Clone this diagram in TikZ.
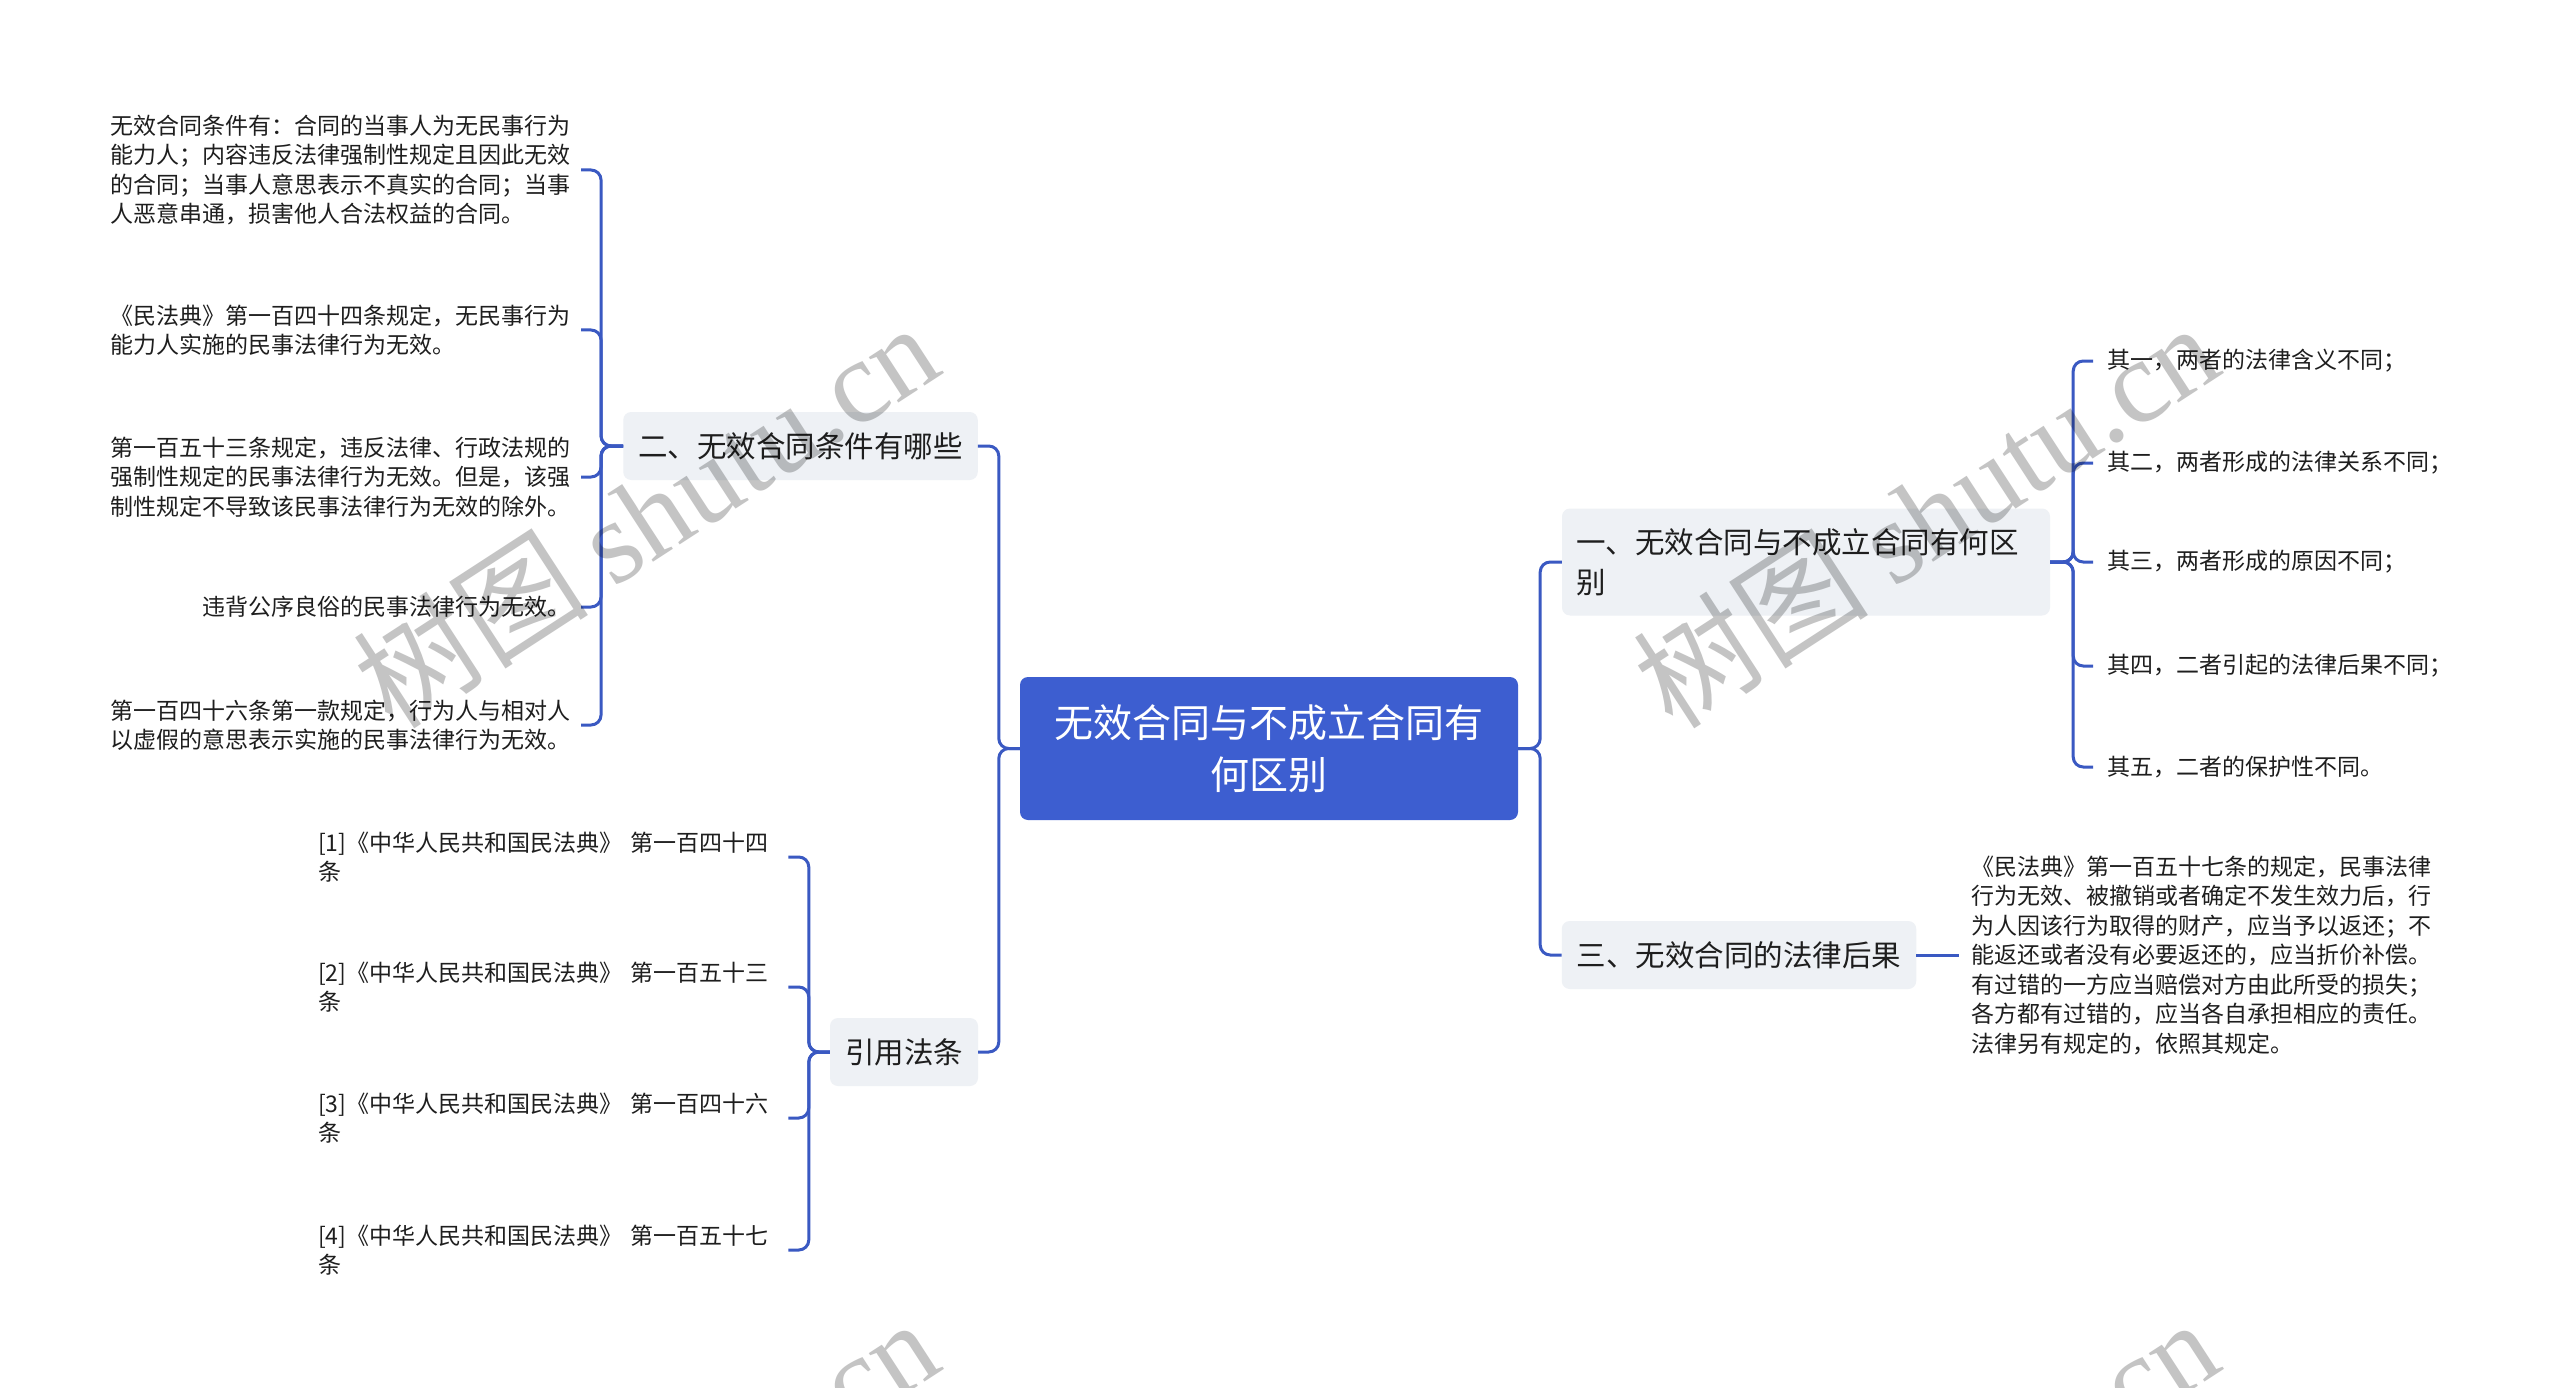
\documentclass[tikz,border=0pt]{standalone}
\usepackage{fontspec}
\setmainfont{Noto Sans CJK SC}
\newfontfamily\wmlatin{Liberation Serif}
\newfontfamily\wmcjk{Noto Sans CJK SC}
\definecolor{lineblue}{HTML}{3A59C2}
\definecolor{mainblue}{HTML}{3D5ED0}
\definecolor{boxgray}{HTML}{EEF1F5}
\definecolor{txt}{HTML}{1E1E1E}
\definecolor{wmgray}{HTML}{C4C4C4}
\tikzset{
  conn/.style={draw=lineblue, line width=3pt, rounded corners=10pt},
  mainnode/.style={fill=mainblue, rounded corners=8pt, text=white,
    font=\fontsize{39}{52}\selectfont, align=center,
    minimum width=498pt, minimum height=143pt, inner sep=0pt},
  topic/.style={fill=boxgray, rounded corners=8pt, text=txt,
    font=\fontsize{29.5}{40}\selectfont, align=left,
    inner xsep=15pt, inner ysep=0pt, minimum height=68pt},
  leaf/.style={text=txt, font=\fontsize{23}{29.5}\selectfont, align=left,
    inner xsep=10pt, inner ysep=2pt},
  wm/.style={rotate=33, text=wmgray, font=\fontsize{118}{118}\selectfont, inner sep=0pt}
}
\begin{document}
\begin{tikzpicture}[x=1pt,y=-1pt]
\useasboundingbox (0,0) rectangle (2560,1388);
\fill[white] (0,0) rectangle (2560,1388);

% root
\node[mainnode] (root) at (1269,748.5) {无效合同与不成立合同有\\何区别};

% main topics
\node[topic, inner xsep=14pt, text width=460pt, minimum height=107pt] (t1) at (1806,562) {一、无效合同与不成立合同有何区\\别};
\node[topic] (t2) at (800.5,446) {二、无效合同条件有哪些};
\node[topic] (t3) at (1739,955) {三、无效合同的法律后果};
\node[topic] (t4) at (904,1052) {引用法条};

% right leaves of t1
\node[leaf, anchor=west, inner xsep=14pt] (b1) at (2093,361) {其一，两者的法律含义不同；};
\node[leaf, anchor=west, inner xsep=14pt] (b2) at (2093,463) {其二，两者形成的法律关系不同；};
\node[leaf, anchor=west, inner xsep=14pt] (b3) at (2093,562) {其三，两者形成的原因不同；};
\node[leaf, anchor=west, inner xsep=14pt] (b4) at (2093,666) {其四，二者引起的法律后果不同；};
\node[leaf, anchor=west, inner xsep=14pt] (b5) at (2093,767) {其五，二者的保护性不同。};

% leaf of t3
\node[leaf, anchor=west, inner xsep=12pt] (c1) at (1959,955) {《民法典》第一百五十七条的规定，民事法律\\行为无效、被撤销或者确定不发生效力后，行\\为人因该行为取得的财产，应当予以返还；不\\能返还或者没有必要返还的，应当折价补偿。\\有过错的一方应当赔偿对方由此所受的损失；\\各方都有过错的，应当各自承担相应的责任。\\法律另有规定的，依照其规定。};

% left leaves of t2
\node[leaf, anchor=east] (a1) at (581,170) {无效合同条件有：合同的当事人为无民事行为\\能力人；内容违反法律强制性规定且因此无效\\的合同；当事人意思表示不真实的合同；当事\\人恶意串通，损害他人合法权益的合同。};
\node[leaf, anchor=east] (a2) at (581,330) {《民法典》第一百四十四条规定，无民事行为\\能力人实施的民事法律行为无效。};
\node[leaf, anchor=east] (a3) at (581,477) {第一百五十三条规定，违反法律、行政法规的\\强制性规定的民事法律行为无效。但是，该强\\制性规定不导致该民事法律行为无效的除外。};
\node[leaf, anchor=east] (a4) at (581,607) {违背公序良俗的民事法律行为无效。};
\node[leaf, anchor=east] (a5) at (581,725) {第一百四十六条第一款规定，行为人与相对人\\以虚假的意思表示实施的民事法律行为无效。};

% left leaves of t4
\node[leaf, anchor=west, text width=460pt] (r1) at (308,857) {[1]《中华人民共和国民法典》 第一百四十四\\条};
\node[leaf, anchor=west, text width=460pt] (r2) at (308,987) {[2]《中华人民共和国民法典》 第一百五十三\\条};
\node[leaf, anchor=west, text width=460pt] (r3) at (308,1118) {[3]《中华人民共和国民法典》 第一百四十六\\条};
\node[leaf, anchor=west, text width=460pt] (r4) at (308,1250) {[4]《中华人民共和国民法典》 第一百五十七\\条};

% connectors
\draw[conn] (root.west) -- ++(-21,0) |- (t2.east);
\draw[conn] (root.west) -- ++(-21,0) |- (t4.east);
\draw[conn] (root.east) -- ++(22,0) |- (t1.west);
\draw[conn] (root.east) -- ++(22,0) |- (t3.west);
\foreach \n in {b1,b2,b3,b4,b5} \draw[conn] (t1.east) -- ++(23,0) |- (\n.west);
\draw[conn] (t3.east) -- (c1.west);
\foreach \n in {a1,a2,a3,a4,a5} \draw[conn] (t2.west) -- ++(-22,0) |- (\n.east);
\foreach \n in {r1,r2,r3,r4} \draw[conn] (t4.west) -- ++(-21,0) |- (\n.east);

% watermarks
\begin{scope}[blend mode=multiply]
\clip (0,0) rectangle (2560,1388);
\node[wm] (wm1) at (645,514) {{\wmcjk 树图} {\wmlatin shutu.cn}};
\node[wm] (wm2) at (1925,514) {{\wmcjk 树图} {\wmlatin shutu.cn}};
\node[wm] (wm3) at (645,1510) {{\wmcjk 树图} {\wmlatin shutu.cn}};
\node[wm] (wm4) at (1925,1510) {{\wmcjk 树图} {\wmlatin shutu.cn}};
\end{scope}
\end{tikzpicture}
\end{document}
